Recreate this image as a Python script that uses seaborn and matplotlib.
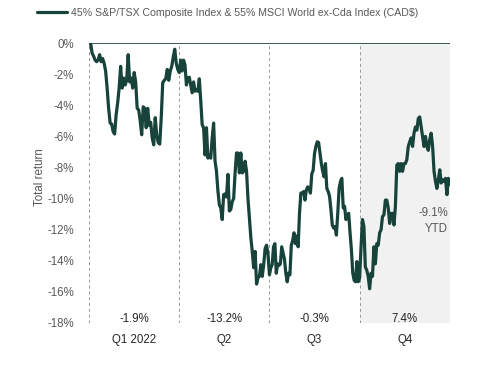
import numpy as np
import pandas as pd
import matplotlib
matplotlib.use('Agg')
import matplotlib.pyplot as plt
import seaborn as sns

# cumulative total return (%), one list per quarter
q1_vals = [0.0, 0.0, -0.65, -0.85, -1.1, -1.2, -1.1, -0.75, -1.2, -1.0, -1.3, -1.8, -2.9, -4.2,
           -5.15, -5.2, -5.7, -5.85, -4.6, -3.85, -2.9, -1.5, -2.9, -2.25, -2.7, -2.4, -0.75,
           -2.5, -2.25, -2.9, -1.9, -2.5, -4.2, -4.3, -5.0, -5.9, -4.1, -4.2, -5.45, -4.2,
           -5.3, -5.1, -6.1, -6.55, -4.8, -5.9, -6.4, -6.5, -4.8, -2.55, -2.4, -2.3, -1.7,
           -2.4, -1.8, -1.5, -0.9, -0.4, -1.3, -1.7, -1.9]
q2_vals = [-1.1, -1.8, -1.1, -1.4, -2.7, -2.25, -2.2, -2.7, -3.2, -2.5, -3.1, -3.0, -3.1, -2.3,
           -3.7, -5.25, -5.45, -7.2, -5.45, -7.4, -7.2, -7.4, -6.1, -5.15, -7.6, -8.25, -9.5,
           -10.4, -10.6, -11.35, -9.75, -9.7, -9.9, -8.45, -10.8, -10.7, -10.2, -10.0, -8.35,
           -7.07, -7.07, -8.35, -7.07, -8.35, -8.25, -7.6, -8.25, -10.0, -11.25, -12.5, -13.4,
           -14.45, -13.4, -15.5, -15.1, -15.0, -14.25, -15.0, -14.25, -13.2, -13.0, -13.6,
           -14.9]
q3_vals = [-14.45, -14.25, -13.1, -12.9, -14.8, -14.2, -14.3, -14.2, -13.1, -13.5, -13.9, -14.8,
           -15.35, -14.8, -14.9, -13.0, -12.7, -12.2, -12.9, -12.4, -13.1, -10.95, -9.65,
           -9.65, -9.55, -10.1, -9.45, -9.25, -9.35, -9.65, -8.4, -8.2, -7.1, -6.65, -6.35,
           -6.4, -7.1, -7.75, -8.25, -8.6, -7.75, -9.35, -9.55, -9.85, -10.7, -11.7, -11.9,
           -11.8, -12.35, -10.95, -9.35, -8.9, -8.7, -10.6, -10.5, -11.35, -11.05, -10.95,
           -12.2, -13.3, -14.8, -15.25, -15.35, -14.05, -15.35, -15.1]
q4_vals = [-13.1, -11.35, -11.8, -14.4, -14.6, -15.0, -15.8, -14.8, -15.0, -13.1, -14.2, -12.9,
           -13.0, -12.2, -12.0, -11.15, -11.05, -10.1, -10.1, -10.6, -11.6, -10.95, -10.95,
           -11.7, -10.5, -7.85, -7.75, -8.25, -7.75, -8.25, -7.75, -7.75, -7.5, -6.65, -6.35,
           -6.1, -6.65, -5.8, -5.4, -5.6, -4.85, -4.75, -5.4, -6.0, -6.65, -6.0, -6.65, -6.9,
           -6.2, -5.8, -6.65, -8.25, -8.9, -9.35, -8.8, -8.15, -9.0, -8.8, -8.9, -8.7, -9.75,
           -8.7, -9.1]

quarter_labels = ['Q1 2022', 'Q2', 'Q3', 'Q4']
quarter_returns = ['-1.9%', '-13.2%', '-0.3%', '7.4%']
ytd_label = '-9.1%\nYTD'
series_name = '45% S&P/TSX Composite Index & 55% MSCI World ex-Cda Index (CAD$)'

LINE = '#17433a'
GREY = '#595959'
DARK = '#262626'
FS = 8.3

# x runs in quarter units: 0 = start of Q1, 4 = end of Q4
xs = [np.linspace(0, 1, len(q1_vals))]
for q, vals in enumerate([q2_vals, q3_vals, q4_vals], start=1):
    xs.append(q + np.arange(1, len(vals) + 1) / len(vals))
df = pd.DataFrame({'pos': np.concatenate(xs),
                   'ret': np.concatenate([q1_vals, q2_vals, q3_vals, q4_vals]),
                   'series': series_name})

sns.set_style('white')
plt.rcParams['font.family'] = ['Liberation Sans', 'DejaVu Sans']

fig = plt.figure(figsize=(4.79, 3.66), dpi=100)
ax = fig.add_axes([0.186, 0.1175, 0.753, 0.765])

ax.axvspan(3, 4, color='#f1f1f1', zorder=0, lw=0)
for b in range(5):
    ax.axvline(b, color='#8c9a95', lw=0.7, ls=(0, (3, 3)), zorder=1)
ax.axhline(0, color=LINE, lw=1.2, zorder=2)

sns.lineplot(data=df, x='pos', y='ret', hue='series', palette=[LINE],
             lw=2.3, ax=ax, zorder=3)

ax.set_xlim(0, 4)
ax.set_ylim(-18, 0)
ax.set_yticks(np.arange(-18, 1, 2))
ax.set_yticklabels([f'{v}%' for v in range(-18, 1, 2)])
ax.set_xticks(np.arange(4) + 0.5)
ax.set_xticklabels(quarter_labels)
ax.tick_params(axis='y', length=0, pad=11, labelsize=FS, labelcolor=GREY)
ax.tick_params(axis='x', length=0, pad=8, labelsize=FS, labelcolor=DARK)
ax.set_xlabel('')
ax.set_ylabel('Total return', fontsize=FS, color=GREY)
ax.yaxis.set_label_coords(-0.12, 0.52)
for s in ax.spines.values():
    s.set_visible(False)

for q, r in enumerate(quarter_returns):
    ax.text(q + 0.5, -17.75, r, ha='center', va='center', fontsize=FS, color=DARK)
ax.text(3.98, -11.45, ytd_label, ha='right', va='center', fontsize=FS, color=GREY,
        linespacing=1.5)

ax.legend(loc='center left', bbox_to_anchor=(0.068, 1 - 13 / 366),
          bbox_transform=fig.transFigure, frameon=False,
          fontsize=7.6, handlelength=2.9, handletextpad=0.3, labelcolor=GREY,
          borderaxespad=0)

fig.savefig('out.png', dpi=100)
plt.close()
